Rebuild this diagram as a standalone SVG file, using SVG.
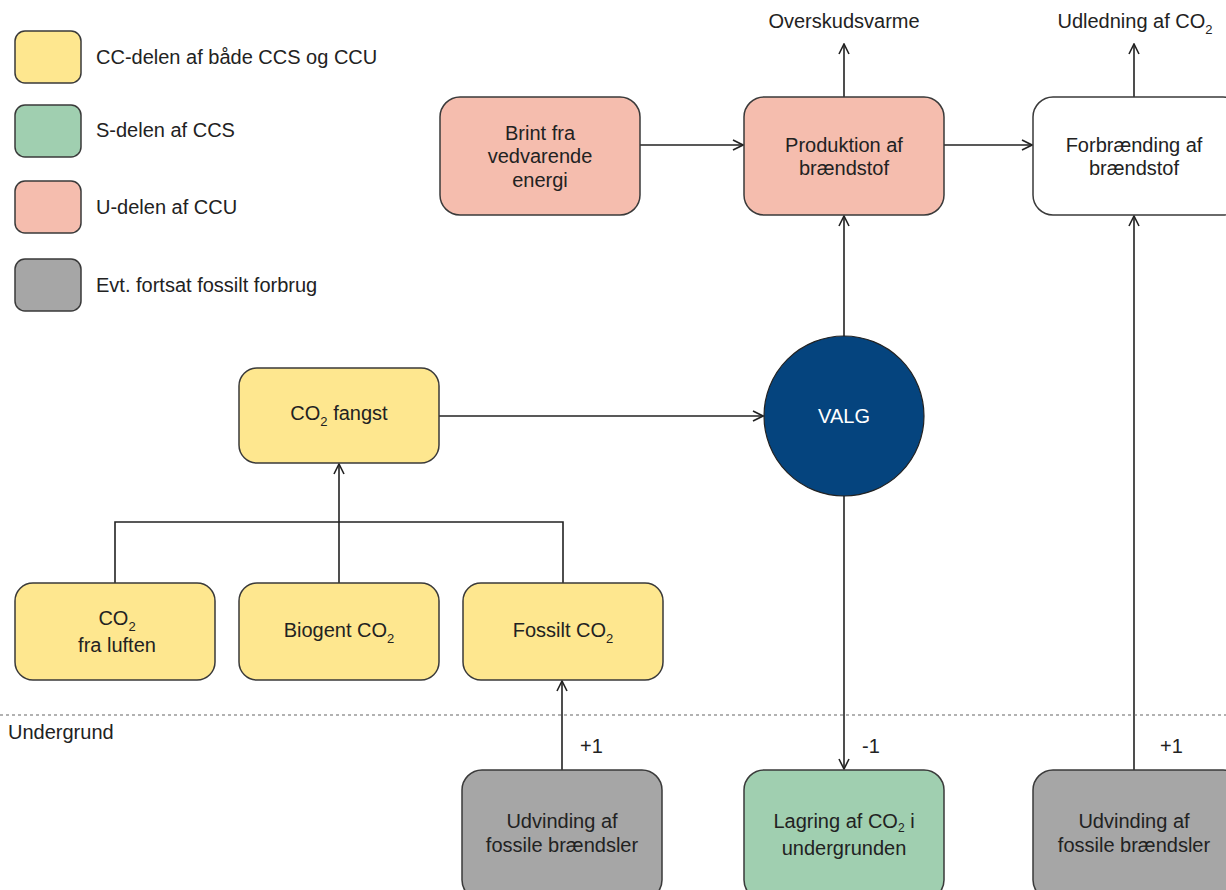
<svg xmlns="http://www.w3.org/2000/svg" width="1226" height="890" viewBox="0 0 1226 890">
<defs>
<marker id="arr" viewBox="0 0 12 12" refX="11" refY="6" markerWidth="12" markerHeight="12" markerUnits="userSpaceOnUse" orient="auto">
<path d="M1,1 L11,6 L1,11" fill="none" stroke="#222" stroke-width="1.6"/>
</marker>
<style>
.b{stroke:#3a3a3a;stroke-width:1.5}
.y{fill:#FEE78F}.g{fill:#A0CFB0}.p{fill:#F5BDAE}.gr{fill:#A6A6A6}.w{fill:#fff}
text{font-family:"Liberation Sans",Arial,sans-serif;font-size:20px;fill:#222}
.c{text-anchor:middle}
.s{font-size:13px}
.ln{stroke:#222;stroke-width:1.6;fill:none}
</style>
</defs>
<rect width="1226" height="890" fill="#fff"/>
<g id="legend">
<rect class="b y" x="15" y="31" width="66" height="52" rx="10"/>
<rect class="b g" x="15" y="105" width="66" height="52" rx="10"/>
<rect class="b p" x="15" y="181" width="66" height="52" rx="10"/>
<rect class="b gr" x="15" y="259" width="66" height="52" rx="10"/>
<text x="96" y="64">CC-delen af både CCS og CCU</text>
<text x="96" y="137">S-delen af CCS</text>
<text x="96" y="214">U-delen af CCU</text>
<text x="96" y="292">Evt. fortsat fossilt forbrug</text>
</g>
<g id="connectors">
<line class="ln" x1="640" y1="145" x2="743" y2="145" marker-end="url(#arr)"/>
<line class="ln" x1="944" y1="145" x2="1032" y2="145" marker-end="url(#arr)"/>
<line class="ln" x1="844" y1="97" x2="844" y2="44" marker-end="url(#arr)"/>
<line class="ln" x1="1134" y1="97" x2="1134" y2="44" marker-end="url(#arr)"/>
<line class="ln" x1="439" y1="416" x2="763" y2="416" marker-end="url(#arr)"/>
<line class="ln" x1="844" y1="337" x2="844" y2="216" marker-end="url(#arr)"/>
<line class="ln" x1="844" y1="496" x2="844" y2="769" marker-end="url(#arr)"/>
<polyline class="ln" points="115,583 115,522 563,522 563,583"/>
<line class="ln" x1="339" y1="583" x2="339" y2="464" marker-end="url(#arr)"/>
<line class="ln" x1="562" y1="770" x2="562" y2="681" marker-end="url(#arr)"/>
<line class="ln" x1="1134" y1="770" x2="1134" y2="216" marker-end="url(#arr)"/>
<line x1="0" y1="715" x2="1226" y2="715" stroke="#666" stroke-width="1.2" stroke-dasharray="3,3"/>
</g>
<g id="labels">
<text class="c" x="844" y="28">Overskudsvarme</text>
<text class="c" x="1135" y="28">Udledning af CO<tspan class="s" dy="6">2</tspan></text>
<text x="8" y="739">Undergrund</text>
<text x="580" y="753">+1</text>
<text x="862" y="753">-1</text>
<text x="1160" y="753">+1</text>
</g>
<g id="brint">
<rect class="b p" x="440" y="97" width="200" height="118" rx="20"/>
<text class="c" x="540" y="140">Brint fra</text>
<text class="c" x="540" y="163">vedvarende</text>
<text class="c" x="540" y="187">energi</text>
</g>
<g id="produktion">
<rect class="b p" x="744" y="97" width="200" height="118" rx="20"/>
<text class="c" x="844" y="152">Produktion af</text>
<text class="c" x="844" y="175">brændstof</text>
</g>
<g id="forbraending">
<rect class="b w" x="1033" y="97" width="210" height="118" rx="20"/>
<text class="c" x="1134" y="152">Forbrænding af</text>
<text class="c" x="1134" y="175">brændstof</text>
</g>
<g id="fangst">
<rect class="b y" x="239" y="368" width="200" height="95" rx="18"/>
<text class="c" x="339" y="420">CO<tspan class="s" dy="6">2</tspan><tspan dy="-6"> fangst</tspan></text>
</g>
<g id="valg">
<circle cx="844" cy="416" r="80" fill="#05447E" stroke="#222" stroke-width="1.2"/>
<text class="c" x="844" y="423" style="fill:#fff">VALG</text>
</g>
<g id="luften">
<rect class="b y" x="15" y="583" width="200" height="97" rx="18"/>
<text class="c" x="117" y="625">CO<tspan class="s" dy="6">2</tspan></text>
<text class="c" x="117" y="652">fra luften</text>
</g>
<g id="biogent">
<rect class="b y" x="239" y="583" width="200" height="97" rx="18"/>
<text class="c" x="339" y="637">Biogent CO<tspan class="s" dy="6">2</tspan></text>
</g>
<g id="fossilt">
<rect class="b y" x="463" y="583" width="200" height="97" rx="18"/>
<text class="c" x="563" y="637">Fossilt CO<tspan class="s" dy="6">2</tspan></text>
</g>
<g id="udvinding1">
<rect class="b gr" x="462" y="770" width="200" height="130" rx="20"/>
<text class="c" x="562" y="828">Udvinding af</text>
<text class="c" x="562" y="852">fossile brændsler</text>
</g>
<g id="lagring">
<rect class="b g" x="744" y="770" width="200" height="130" rx="20"/>
<text class="c" x="844" y="828">Lagring af CO<tspan style="font-size:12px" dy="4">2</tspan><tspan dy="-4"> i</tspan></text>
<text class="c" x="844" y="855">undergrunden</text>
</g>
<g id="udvinding2">
<rect class="b gr" x="1033" y="770" width="210" height="130" rx="20"/>
<text class="c" x="1134" y="828">Udvinding af</text>
<text class="c" x="1134" y="852">fossile brændsler</text>
</g>
</svg>
